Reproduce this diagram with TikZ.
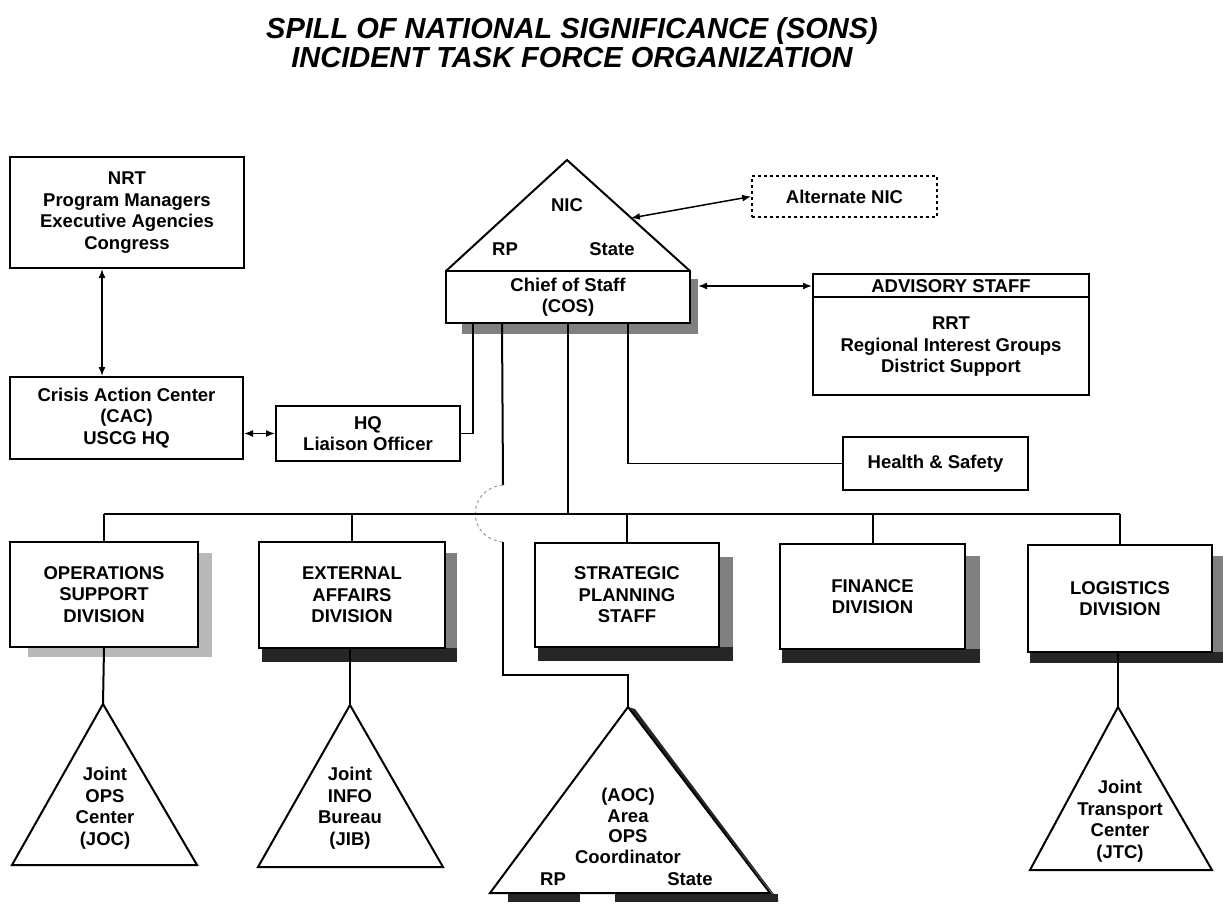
\documentclass[tikz,border=0pt]{standalone}
\usepackage{fontspec}
\setmainfont{Liberation Sans}
\usetikzlibrary{arrows.meta,calc}
\begin{document}
\begin{tikzpicture}[x=1pt,y=-1pt,
  txt/.style={font=\fontsize{18.5}{21.5}\selectfont\bfseries, align=center, inner sep=0pt},
  box/.style={draw, line width=2pt, fill=white, inner sep=0pt, align=center, font=\fontsize{18.5}{21.5}\selectfont\bfseries},
  ln/.style={line width=2pt},
  lnt/.style={line width=1.7pt},
  dbl/.style={line width=1.5pt,{Latex[length=9pt,width=7pt]}-{Latex[length=9pt,width=7pt]}},
  shd/.style={fill=black!85},
  shg/.style={fill=black!50},
  shl/.style={fill=black!28},
  hop/.style={dashed, draw=black!40, line width=1pt},
  tri/.style={line width=2pt, fill=white, line join=miter},
  ttl/.style={font=\fontsize{29}{30}\selectfont\bfseries\itshape, inner sep=0pt, anchor=base},
]
\useasboundingbox[fill=white] (0,0) rectangle (1223,910);

% title
\node[ttl] (title1) at (572,38) {SPILL OF NATIONAL SIGNIFICANCE (SONS)};
\node[ttl] (title2) at (572,67) {INCIDENT TASK FORCE ORGANIZATION};

% shadows
\fill[shg] (462,323) rectangle (698,334);
\fill[shg] (690,279) rectangle (698,334);
\fill[shl] (198,553) rectangle (212,657);
\fill[shl] (28,647) rectangle (212,657);
\fill[shg] (445,553) rectangle (457,662);
\fill[shd] (262,648) rectangle (457,662);
\fill[shg] (719,557) rectangle (733,661);
\fill[shd] (538,647) rectangle (733,661);
\fill[shg] (965,556) rectangle (980,663);
\fill[shd] (782,649) rectangle (980,663);
\fill[shg] (1212,556) rectangle (1223,663);
\fill[shd] (1030,652) rectangle (1223,663);
\fill[shd] (508,894) rectangle (580,902);
\fill[shd] (615,894) rectangle (778,902);
\fill[shd] (628,707) -- (771,892) -- (779,901) -- (635,709) -- cycle;

% NIC triangle
\coordinate (nictop) at (567,160);
\draw[tri] (446,271) -- (nictop) -- (690,271);
\node[txt] (nic) at (567,205) {NIC};
\node[txt] (niclrp) at (505,249) {RP};
\node[txt] (nicst) at (612,249) {State};

% boxes
\node[box, minimum width=234, minimum height=111] (nrt) at (127,212.5) {NRT\\Program Managers\\Executive Agencies\\Congress};
\node[box, minimum width=233, minimum height=82] (cac) at (126.5,418) {Crisis Action Center\\(CAC)\\USCG HQ};
\node[box, minimum width=184, minimum height=55] (hql) at (368,433.5) {HQ\\Liaison Officer};
\node[box, minimum width=244, minimum height=52] (cos) at (568,297) {Chief of Staff\\(COS)};
\node[box, dashed, line width=1.5pt, minimum width=185, minimum height=41] (alt) at (844.5,196.5) {Alternate NIC};
\node[box, minimum width=276, minimum height=121] (adv) at (951,334.5) {};
\draw[line width=1.7pt] ($(adv.north west)+(0,24)$) -- ($(adv.north east)+(0,24)$);
\node[txt] (advh) at (951,286) {ADVISORY STAFF};
\node[txt] (advb) at (951,347) {RRT\\Regional Interest Groups\\District Support};
\node[box, minimum width=185, minimum height=53] (hs) at (935.5,463.5) {Health \& Safety};

% coordinates
\coordinate (nicR) at (631,218);
\coordinate (cosR) at (698,286);
\coordinate (busY) at (0,514);
\coordinate (hopTop) at (503,485);
\coordinate (hopBot) at (503,542);
\coordinate (aocTurn) at (503,675);

% connectors top part
\draw[dbl] (alt.west) -- (nicR);
\draw[dbl] (cosR) -- (adv.west |- cosR);
\draw[dbl] ($(nrt.south west)+(93,0)$) -- ($(cac.north west)+(93,0)$);
\draw[dbl] (cac.east |- hql.west) -- (hql.west);
\draw[lnt] (hql.east) -| ($(cos.south west)+(28,0)$);
\draw[lnt] ($(cos.south west)+(183,0)$) |- (hs.west);
\draw[ln] ($(cos.south west)+(57,0)$) -- (hopTop);
\draw[hop] (hopTop) .. controls (466,489) and (466,538) .. (hopBot);

% division boxes
\node[box, minimum width=188, minimum height=105] (ops) at (104,594.5) {OPERATIONS\\SUPPORT\\DIVISION};
\node[box, minimum width=186, minimum height=106] (ext) at (352,595) {EXTERNAL\\AFFAIRS\\DIVISION};
\node[box, minimum width=184, minimum height=104] (strat) at (627,595) {STRATEGIC\\PLANNING\\STAFF};
\node[box, minimum width=185, minimum height=105] (fin) at (872.5,596.5) {FINANCE\\DIVISION};
\node[box, minimum width=184, minimum height=107] (log) at (1120,598.5) {LOGISTICS\\DIVISION};

% bus
\draw[line width=2.4pt] (ops.north |- busY) -- (log.north |- busY);
\draw[ln] (cos.south) -- (cos.south |- busY);
\draw[ln] (ops.north) -- (ops.north |- busY);
\draw[ln] (ext.north) -- (ext.north |- busY);
\draw[ln] (strat.north) -- (strat.north |- busY);
\draw[ln] (fin.north) -- (fin.north |- busY);
\draw[ln] (log.north) -- (log.north |- busY);

% triangles
\coordinate (jocTop) at (103,704);
\coordinate (jibTop) at (350,705);
\coordinate (aocTop) at (628,707);
\coordinate (jtcTop) at (1118,707);
\draw[tri] (jocTop) -- (197,865) -- (12,865) -- cycle;
\draw[tri] (jibTop) -- (443,867) -- (258,867) -- cycle;
\draw[tri] (aocTop) -- (770,893) -- (490,893) -- cycle;
\draw[tri] (jtcTop) -- (1212,870) -- (1030,870) -- cycle;
\node[txt] (joc) at (105,808) {Joint\\OPS\\Center\\(JOC)};
\node[txt] (jib) at (350,808) {Joint\\INFO\\Bureau\\(JIB)};
\node[txt, font=\fontsize{18.5}{20.5}\selectfont\bfseries] (aoc) at (628,826) {(AOC)\\Area\\OPS\\Coordinator};
\node[txt] (aocrp) at (553,879) {RP};
\node[txt] (aocst) at (690,879) {State};
\node[txt] (jtc) at (1120,821) {Joint\\Transport\\Center\\(JTC)};

% lower connectors
\draw[ln] (ops.south) -- (jocTop);
\draw[ln] (ext.south -| jibTop) -- (jibTop);
\draw[ln] (log.south -| jtcTop) -- (jtcTop);
\draw[ln] (hopBot) -- (aocTurn) -| (aocTop);
\end{tikzpicture}
\end{document}
